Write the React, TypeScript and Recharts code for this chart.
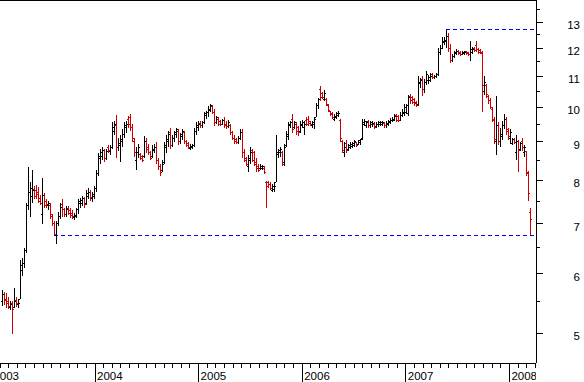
import React from "react";
import { ComposedChart, Bar, Scatter, XAxis, YAxis, ReferenceLine } from "recharts";

// weekly bars, Feb 2003 .. Mar 2008
const opens = [
  5.5, 5.62, 5.55, 5.5, 5.4, 5.47, 5.4, 5.52, 5.45, 5.55, 6.05, 6.2, 6.45, 7.4, 7.7, 7.6, 7.78, 7.75, 7.7, 7.55,
  7.2, 7.62, 7.48, 7.4, 7.4, 7.15, 7.0, 6.75, 7.0, 7.15, 7.42, 7.3, 7.2, 7.32, 7.28, 7.22, 7.14, 7.15, 7.3, 7.45,
  7.45, 7.55, 7.45, 7.6, 7.7, 7.55, 7.6, 7.8, 8.15, 8.55, 8.6, 8.75, 8.55, 8.85, 8.72, 8.85, 9.3, 9.45, 8.85, 8.9,
  9.0, 9.2, 9.4, 9.65, 9.7, 9.4, 9.0, 8.5, 8.7, 8.65, 8.6, 8.6, 9.0, 8.85, 8.7, 8.6, 8.75, 8.85, 8.5, 8.35,
  8.25, 8.45, 8.85, 9.0, 9.25, 8.9, 9.1, 9.2, 9.3, 9.0, 9.15, 9.25, 9.0, 8.95, 8.82, 8.85, 8.9, 9.3, 9.4, 9.52,
  9.45, 9.55, 9.75, 9.85, 9.9, 10.02, 9.85, 9.55, 9.65, 9.58, 9.5, 9.6, 9.5, 9.42, 9.45, 9.25, 9.1, 9.05, 8.98, 9.08,
  9.25, 8.7, 8.55, 8.35, 8.5, 8.75, 8.7, 8.45, 8.35, 8.28, 8.3, 8.3, 7.95, 7.95, 7.9, 7.75, 7.78, 7.95, 8.65, 8.7,
  8.7, 8.45, 8.9, 9.15, 9.45, 9.65, 9.4, 9.5, 9.4, 9.3, 9.45, 9.4, 9.6, 9.65, 9.58, 9.45, 9.5, 9.7, 10.05, 10.55,
  10.45, 10.25, 10.25, 10.05, 9.88, 9.8, 9.65, 9.7, 9.75, 9.6, 9.0, 8.7, 8.95, 8.78, 8.85, 8.88, 8.9, 8.98, 8.92, 8.98,
  9.1, 9.5, 9.45, 9.58, 9.45, 9.48, 9.5, 9.42, 9.48, 9.5, 9.5, 9.52, 9.45, 9.5, 9.55, 9.6, 9.62, 9.75, 9.72, 9.62,
  9.75, 9.8, 9.85, 9.8, 10.35, 10.3, 10.25, 10.15, 10.08, 10.75, 10.9, 10.55, 10.8, 10.85, 10.85, 11.05, 10.95, 11.0, 11.05, 11.85,
  12.0, 12.2, 12.25, 12.45, 12.0, 11.55, 11.7, 11.8, 11.88, 11.85, 11.78, 11.8, 11.88, 11.82, 11.75, 11.85, 12.0, 12.1, 11.95, 11.9,
  11.8, 10.5, 10.7, 10.35, 10.2, 9.95, 9.6, 9.0, 9.45, 9.0, 9.15, 9.45, 9.65, 9.35, 9.1, 8.95, 9.05, 8.7, 9.0, 8.8,
  9.0, 8.7, 8.72, 8.15, 7.25,
];
const highs = [
  5.7, 5.68, 5.66, 5.58, 5.52, 5.52, 5.75, 5.58, 5.55, 6.25, 6.3, 6.5, 7.45, 8.33, 7.95, 8.25, 7.85, 7.88, 7.82, 7.65,
  8.05, 7.68, 7.55, 7.5, 7.45, 7.2, 7.05, 7.05, 7.25, 7.45, 7.55, 7.35, 7.38, 7.38, 7.35, 7.3, 7.22, 7.35, 7.55, 7.58,
  7.62, 7.6, 7.75, 7.8, 7.75, 7.72, 7.85, 8.25, 8.7, 8.8, 8.85, 8.8, 8.8, 8.9, 8.92, 9.55, 9.6, 9.78, 9.1, 9.2,
  9.35, 9.55, 9.6, 9.75, 9.8, 9.5, 9.1, 8.85, 8.95, 8.7, 8.65, 9.15, 9.1, 8.95, 8.75, 8.9, 8.95, 9.0, 8.55, 8.4,
  8.5, 9.0, 9.2, 9.3, 9.4, 9.2, 9.3, 9.4, 9.35, 9.25, 9.35, 9.3, 9.05, 9.0, 8.95, 8.95, 9.4, 9.55, 9.6, 9.58,
  9.6, 9.85, 9.9, 10.05, 10.1, 10.08, 9.95, 9.75, 9.7, 9.62, 9.65, 9.7, 9.6, 9.62, 9.5, 9.3, 9.2, 9.1, 9.15, 9.35,
  9.35, 8.8, 8.6, 8.65, 8.85, 8.8, 8.75, 8.55, 8.4, 8.4, 8.38, 8.35, 7.98, 7.98, 7.95, 7.9, 7.95, 9.2, 8.8, 8.85,
  8.75, 8.95, 9.3, 9.55, 9.6, 9.8, 9.6, 9.55, 9.45, 9.6, 9.62, 9.58, 9.7, 9.75, 9.6, 9.6, 9.7, 10.15, 10.3, 10.68,
  10.5, 10.55, 10.3, 10.1, 9.9, 9.85, 9.8, 9.85, 9.9, 9.65, 9.05, 9.0, 9.05, 8.95, 8.98, 9.0, 9.05, 9.0, 9.05, 9.08,
  9.65, 9.65, 9.6, 9.62, 9.6, 9.58, 9.55, 9.55, 9.6, 9.58, 9.6, 9.55, 9.58, 9.62, 9.68, 9.7, 9.8, 9.8, 9.78, 9.85,
  9.95, 10.1, 10.1, 10.4, 10.42, 10.35, 10.3, 10.2, 11.0, 10.95, 11.0, 10.9, 11.2, 11.05, 11.1, 11.1, 11.05, 11.1, 12.0, 12.1,
  12.4, 12.4, 12.72, 12.55, 12.15, 11.8, 11.9, 11.95, 11.92, 11.88, 11.9, 11.88, 11.9, 11.85, 12.25, 12.05, 12.05, 12.25, 12.0, 11.95,
  11.9, 11.0, 10.75, 10.4, 10.3, 10.0, 9.7, 10.35, 9.55, 9.4, 9.6, 9.8, 9.7, 9.4, 9.35, 9.1, 9.1, 9.2, 9.05, 9.0,
  9.1, 8.92, 8.75, 8.22, 7.35,
];
const lows = [
  5.43, 5.45, 5.4, 5.38, 5.37, 4.98, 5.4, 5.42, 5.4, 5.55, 5.95, 6.1, 6.4, 7.3, 7.15, 7.45, 7.55, 7.55, 7.45, 7.4,
  7.0, 7.35, 7.35, 7.3, 7.1, 6.95, 6.74, 6.58, 6.95, 7.1, 7.15, 7.15, 7.15, 7.18, 7.12, 7.1, 7.08, 7.12, 7.2, 7.35,
  7.38, 7.35, 7.4, 7.55, 7.5, 7.48, 7.55, 7.7, 8.1, 8.4, 8.5, 8.45, 8.5, 8.7, 8.65, 8.8, 9.2, 8.55, 8.75, 8.45,
  8.85, 9.1, 9.25, 9.4, 9.3, 9.0, 8.6, 8.25, 8.55, 8.5, 8.45, 8.55, 8.7, 8.65, 8.5, 8.55, 8.7, 8.4, 8.25, 8.1,
  8.2, 8.4, 8.7, 8.85, 8.8, 8.85, 9.0, 9.1, 8.9, 8.95, 9.05, 8.95, 8.85, 8.8, 8.78, 8.8, 8.85, 9.2, 9.3, 9.4,
  9.4, 9.5, 9.65, 9.7, 9.85, 9.8, 9.45, 9.5, 9.45, 9.45, 9.48, 9.4, 9.35, 9.4, 9.2, 9.05, 8.95, 8.95, 8.95, 9.05,
  8.55, 8.45, 8.35, 8.2, 8.4, 8.45, 8.35, 8.2, 8.2, 8.25, 8.25, 8.15, 7.35, 7.8, 7.75, 7.7, 7.7, 7.95, 8.55, 8.6,
  8.35, 8.35, 8.85, 9.05, 9.4, 9.25, 9.35, 9.2, 9.15, 9.25, 9.4, 9.2, 9.45, 9.45, 9.45, 9.4, 9.35, 9.7, 9.95, 10.2,
  10.25, 10.2, 10.05, 9.85, 9.75, 9.65, 9.6, 9.65, 9.7, 9.0, 8.7, 8.6, 8.7, 8.75, 8.8, 8.82, 8.85, 8.85, 8.9, 8.92,
  9.05, 9.45, 9.4, 9.4, 9.4, 9.42, 9.35, 9.4, 9.42, 9.45, 9.45, 9.4, 9.4, 9.45, 9.5, 9.55, 9.58, 9.55, 9.55, 9.6,
  9.7, 9.75, 9.8, 9.75, 10.1, 10.1, 10.05, 10.0, 10.05, 10.6, 10.35, 10.45, 10.7, 10.75, 10.8, 10.9, 10.9, 10.95, 11.0, 11.75,
  11.95, 12.1, 12.0, 11.85, 11.45, 11.5, 11.65, 11.75, 11.75, 11.72, 11.75, 11.75, 11.75, 11.72, 11.55, 11.8, 11.85, 11.85, 11.8, 11.8,
  9.85, 10.4, 10.3, 10.1, 9.95, 9.55, 8.95, 8.65, 8.9, 8.85, 9.05, 9.35, 9.2, 9.05, 8.95, 8.9, 8.95, 8.5, 8.2, 8.75,
  8.75, 8.6, 8.1, 7.5, 6.75,
];
const closes = [
  5.62, 5.52, 5.47, 5.42, 5.46, 5.38, 5.5, 5.47, 5.48, 6.15, 6.2, 6.45, 7.4, 7.7, 7.8, 7.75, 7.6, 7.65, 7.5, 7.45,
  7.62, 7.4, 7.42, 7.45, 7.2, 7.0, 6.76, 7.0, 7.15, 7.35, 7.3, 7.2, 7.3, 7.22, 7.18, 7.16, 7.18, 7.3, 7.48, 7.52,
  7.55, 7.42, 7.68, 7.7, 7.58, 7.65, 7.8, 8.15, 8.6, 8.7, 8.75, 8.55, 8.72, 8.75, 8.85, 9.4, 9.5, 8.85, 8.95, 9.05,
  9.2, 9.45, 9.5, 9.5, 9.4, 9.1, 8.7, 8.7, 8.85, 8.55, 8.5, 9.0, 8.8, 8.7, 8.55, 8.8, 8.85, 8.5, 8.35, 8.2,
  8.4, 8.9, 9.05, 9.2, 8.9, 9.1, 9.25, 9.35, 9.0, 9.2, 9.3, 9.0, 8.9, 8.85, 8.88, 8.9, 9.3, 9.45, 9.5, 9.45,
  9.55, 9.8, 9.85, 9.95, 10.05, 9.85, 9.55, 9.7, 9.5, 9.5, 9.6, 9.45, 9.42, 9.55, 9.25, 9.1, 9.0, 8.98, 9.08, 9.25,
  8.7, 8.5, 8.4, 8.55, 8.7, 8.5, 8.4, 8.3, 8.25, 8.35, 8.34, 8.2, 7.85, 7.88, 7.8, 7.85, 7.85, 8.7, 8.75, 8.78,
  8.4, 8.85, 9.2, 9.5, 9.55, 9.35, 9.55, 9.3, 9.25, 9.5, 9.55, 9.5, 9.5, 9.52, 9.48, 9.55, 9.65, 10.05, 10.25, 10.3,
  10.3, 10.45, 10.1, 9.9, 9.78, 9.7, 9.72, 9.8, 9.82, 9.1, 8.75, 8.85, 8.75, 8.9, 8.92, 8.95, 9.0, 8.9, 9.02, 9.05,
  9.55, 9.58, 9.55, 9.45, 9.55, 9.52, 9.4, 9.5, 9.55, 9.55, 9.55, 9.45, 9.52, 9.58, 9.62, 9.65, 9.72, 9.62, 9.6, 9.75,
  9.85, 10.0, 10.05, 10.3, 10.2, 10.15, 10.12, 10.05, 10.8, 10.85, 10.55, 10.8, 11.05, 10.95, 11.0, 10.95, 11.0, 11.05, 11.85, 12.0,
  12.25, 12.3, 12.45, 12.0, 11.55, 11.7, 11.85, 11.88, 11.8, 11.78, 11.85, 11.85, 11.8, 11.76, 11.95, 11.95, 11.9, 11.95, 11.85, 11.85,
  10.7, 10.8, 10.4, 10.2, 10.0, 9.65, 9.05, 9.45, 9.0, 9.2, 9.45, 9.65, 9.3, 9.15, 9.25, 9.05, 8.98, 9.0, 8.75, 8.95,
  8.85, 8.85, 8.2, 7.68, 7.08,
];

const yearLabels = ["2003", "2004", "2005", "2006", "2007", "2008"];
const priceTicks = [5, 5.5, 6, 6.5, 7, 7.5, 8, 8.5, 9, 9.5, 10, 10.5, 11, 11.5, 12, 12.5, 13, 13.5];

// dashed support / peak levels: [bar index where it starts, price]
const supportLine = [26, 6.74];
const peakLine = [222, 12.72];

const UP = "#000000";
const DOWN = "#cc0000";
const FONT = "'Liberation Sans', Arial, sans-serif";

const Y_MIN = 4.56;
const Y_MAX = 13.91;
const X_MIN = -1;
const X_MAX = 267;
const PLOT_RIGHT = 536;

const data = highs.map((h, i) => ({
  t: i,
  hl: [lows[i], h],
  open: opens[i],
  close: closes[i],
}));

// week index of Jan 1 2004 and bars per year (from the axis)
const YEAR_BASE = 46.5;
const YEAR_SPAN = 51.8;
const yearOf = new Map<number, string>();
const xTicks: number[] = [];
yearLabels.forEach((label, k) => {
  for (let m = 0; m < 12; m++) {
    const v = YEAR_BASE + (Number(label) - 2004 + m / 12) * YEAR_SPAN;
    if (v < -6 || v > X_MAX - 0.3) continue;
    xTicks.push(v);
    if (m === 0) yearOf.set(v, label);
  }
});

const colorOf = (p: any) => (p.close >= p.open ? UP : DOWN);

const RangeShape = (props: any) => {
  const { x, y, width, height, payload } = props;
  const cx = Math.round(x + width / 2);
  return <rect x={cx} y={y} width={1} height={Math.max(height, 1)} fill={colorOf(payload)} />;
};

const OpenTick = (props: any) => {
  const { cx, cy, payload } = props;
  return <rect x={Math.round(cx) - 1} y={Math.round(cy - 0.5)} width={1} height={1} fill={colorOf(payload)} />;
};

const CloseTick = (props: any) => {
  const { cx, cy, payload } = props;
  return <rect x={Math.round(cx) + 1} y={Math.round(cy - 0.5)} width={1} height={1} fill={colorOf(payload)} />;
};

const XTick = (props: any) => {
  const { x, y, payload } = props;
  const label = yearOf.get(payload.value);
  return (
    <g>
      <line x1={x} x2={x} y1={y} y2={y + (label ? 19 : 5)} stroke="#000" />
      {label && (
        <svg x={x} y={y} width={Math.max(PLOT_RIGHT - x, 0)} height={19} overflow="hidden">
          <text x={2} y={17} fontSize={11.5} fontFamily={FONT} fill="#000">
            {label}
          </text>
        </svg>
      )}
    </g>
  );
};

const YTick = (props: any) => {
  const { x, y, payload } = props;
  const v = payload.value;
  const major = Number.isInteger(v);
  return (
    <g>
      <line x1={x} x2={x + (major ? 7 : 4)} y1={y} y2={y} stroke="#000" />
      {major && (
        <text x={x + 44} y={y + 7} textAnchor="end" fontSize={11.5} fontFamily={FONT} fill="#000">
          {v}
        </text>
      )}
    </g>
  );
};

export default function App() {
  return (
    <div className="ohlc" style={{ position: "absolute", left: 0, top: 0, width: 584, height: 382, background: "#fff" }}>
      <style>{`.ohlc svg line, .ohlc svg rect, .ohlc svg path { shape-rendering: crispEdges; }`}</style>
      <ComposedChart width={584} height={382} data={data} margin={{ top: 0, right: 0, bottom: 0, left: 0 }}>
        <XAxis
          dataKey="t"
          type="number"
          domain={[X_MIN, X_MAX]}
          allowDataOverflow
          ticks={xTicks}
          interval={0}
          height={19}
          tickSize={0}
          tickMargin={0}
          tickLine={false}
          axisLine={{ stroke: "#000" }}
          tick={<XTick />}
        />
        <YAxis
          orientation="right"
          type="number"
          scale="log"
          domain={[Y_MIN, Y_MAX]}
          allowDataOverflow
          ticks={priceTicks}
          interval={0}
          width={48}
          tickSize={0}
          tickMargin={0}
          tickLine={false}
          axisLine={{ stroke: "#000" }}
          tick={<YTick />}
        />
        <ReferenceLine y={Y_MAX} stroke="#000" />
        <ReferenceLine
          segment={[{ x: supportLine[0], y: supportLine[1] }, { x: X_MAX, y: supportLine[1] }]}
          stroke="#0000ff"
          strokeDasharray="4 3"
        />
        <ReferenceLine
          segment={[{ x: peakLine[0], y: peakLine[1] }, { x: X_MAX, y: peakLine[1] }]}
          stroke="#0000ff"
          strokeDasharray="4 3"
        />
        <Bar dataKey="hl" barSize={1} shape={<RangeShape />} isAnimationActive={false} />
        <Scatter dataKey="open" shape={<OpenTick />} isAnimationActive={false} />
        <Scatter dataKey="close" shape={<CloseTick />} isAnimationActive={false} />
      </ComposedChart>
    </div>
  );
}
